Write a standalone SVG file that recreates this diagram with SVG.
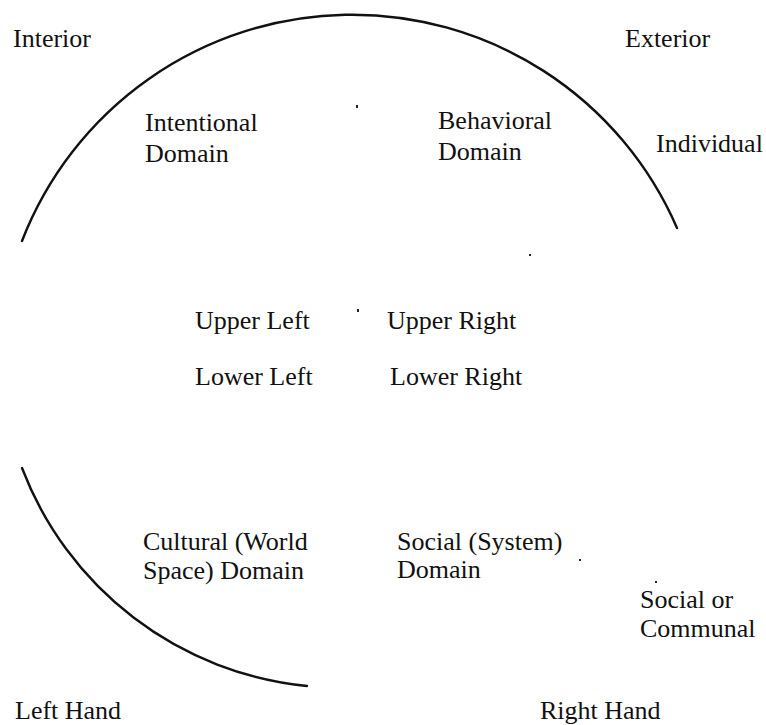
<svg xmlns="http://www.w3.org/2000/svg" width="766" height="725" viewBox="0 0 766 725">
  <style>
    .lbl { font-family: "Liberation Serif", "Times New Roman", serif; font-size: 26px; fill: #111; }
    .arc { fill: none; stroke: #111; stroke-width: 2.4; stroke-linecap: round; }
    .speck { fill: #222; }
  </style>
  <rect width="766" height="725" fill="#fff"/>

  <!-- the two arcs of the circle -->
  <g id="connectors">
    <path class="arc" d="M 22 241 A 354 354 0 0 1 677 228"/>
    <path class="arc" d="M 22 468 A 341 341 0 0 0 307 686"/>
  </g>

  <!-- axis labels -->
  <g id="interior"><text class="lbl" x="13" y="47">Interior</text></g>
  <g id="exterior"><text class="lbl" x="625" y="47">Exterior</text></g>
  <g id="individual"><text class="lbl" x="656" y="152">Individual</text></g>
  <g id="social-communal">
    <text class="lbl" x="640" y="608">Social or</text>
    <text class="lbl" x="640" y="637">Communal</text>
  </g>
  <g id="left-hand"><text class="lbl" x="15" y="719">Left Hand</text></g>
  <g id="right-hand"><text class="lbl" x="540" y="719">Right Hand</text></g>

  <!-- domains -->
  <g id="intentional">
    <text class="lbl" x="145" y="131">Intentional</text>
    <text class="lbl" x="145" y="162">Domain</text>
  </g>
  <g id="behavioral">
    <text class="lbl" x="438" y="129">Behavioral</text>
    <text class="lbl" x="438" y="160">Domain</text>
  </g>
  <g id="cultural">
    <text class="lbl" x="143" y="550">Cultural (World</text>
    <text class="lbl" x="143" y="579">Space) Domain</text>
  </g>
  <g id="social">
    <text class="lbl" x="397" y="550">Social (System)</text>
    <text class="lbl" x="397" y="578">Domain</text>
  </g>

  <!-- quadrants -->
  <g id="upper-left"><text class="lbl" x="195" y="329">Upper Left</text></g>
  <g id="upper-right"><text class="lbl" x="387" y="329">Upper Right</text></g>
  <g id="lower-left"><text class="lbl" x="195" y="385">Lower Left</text></g>
  <g id="lower-right"><text class="lbl" x="390" y="385">Lower Right</text></g>

  <!-- small specks -->
  <g id="specks">
    <rect class="speck" x="356" y="105" width="2" height="3"/>
    <rect class="speck" x="357" y="309" width="2" height="3"/>
    <rect class="speck" x="529" y="254" width="2" height="2"/>
    <rect class="speck" x="579" y="559" width="2" height="2"/>
    <rect class="speck" x="655" y="581" width="2" height="2"/>
  </g>
</svg>
